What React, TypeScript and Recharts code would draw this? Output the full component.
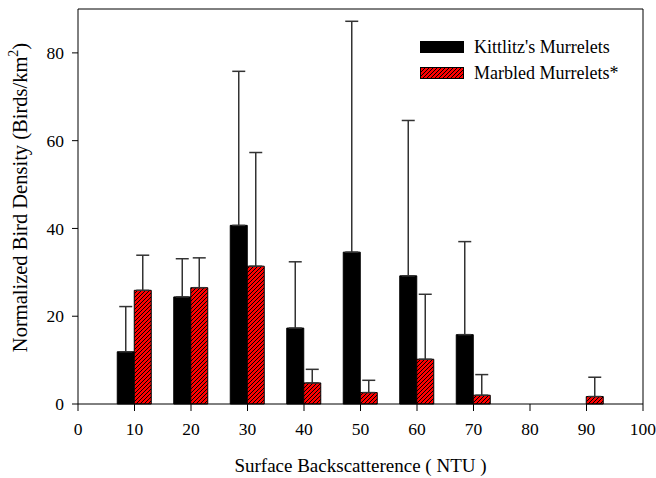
import React from 'react';
import { BarChart, Bar, XAxis, YAxis, ErrorBar, ReferenceLine } from 'recharts';

const backscatter = [10, 20, 30, 40, 50, 60, 70, 80, 90];
const kittlitz = [11.9, 24.4, 40.7, 17.3, 34.6, 29.2, 15.8, 0, 0];
const kittlitzUpper = [22.2, 33.1, 75.8, 32.4, 87.2, 64.6, 37.0, 0, 0];
const marbled = [25.9, 26.5, 31.4, 4.8, 2.6, 10.2, 2.0, 0, 1.7];
const marbledUpper = [33.9, 33.3, 57.3, 7.9, 5.4, 25.0, 6.7, 0, 6.1];
const xTicks = [0, 10, 20, 30, 40, 50, 60, 70, 80, 90, 100];
const yTicks = [0, 20, 40, 60, 80];

const data = backscatter.map((x, i) => ({
  x,
  kittlitz: kittlitz[i],
  marbled: marbled[i],
  kErr: [0, Math.max(0, kittlitzUpper[i] - kittlitz[i])],
  mErr: [0, Math.max(0, marbledUpper[i] - marbled[i])],
}));

const font = 'Liberation Serif, DejaVu Serif, serif';

const YTitle = (props: any) => {
  const vb = props.viewBox || { x: 0, y: 0, width: 78, height: 395 };
  const cx = vb.x + 27;
  const cy = vb.y + vb.height / 2 - 9;
  return (
    <text
      x={cx}
      y={cy}
      transform={`rotate(-90 ${cx} ${cy})`}
      textAnchor="middle"
      fontFamily={font}
      fontSize={20.5}
      fill="#000"
    >
      Normalized Bird Density (Birds/km
      <tspan fontSize={14} dy={-9}>2</tspan>
      <tspan dy={9}>)</tspan>
    </text>
  );
};

export default function App() {
  return (
    <div style={{ position: 'absolute', left: 0, top: 0, width: 656, height: 478, fontFamily: font }}>
      <BarChart
        width={656}
        height={478}
        data={data}
        margin={{ top: 9, right: 13, left: 0, bottom: 0 }}
        barGap={0}
        barSize={17}
      >
        <defs>
          <pattern id="hatch" patternUnits="userSpaceOnUse" width={4} height={4}>
            <rect width={4} height={4} fill="#ff0000" />
            <path d="M-1,1 l2,-2 M0,4 l4,-4 M3,5 l2,-2" stroke="#000" strokeWidth={1} />
          </pattern>
        </defs>
        <XAxis
          dataKey="x"
          type="number"
          domain={[0, 100]}
          ticks={xTicks}
          height={74}
          tickSize={7}
          stroke="#000"
          tick={{ fill: '#000', fontFamily: font, fontSize: 17.5, dy: 10 }}
          label={{ value: 'Surface Backscatterence ( NTU )', position: 'insideBottom', offset: 6, style: { fontFamily: font, fontSize: 19, fill: '#000' } }}
        />
        <YAxis
          type="number"
          domain={[0, 90]}
          ticks={yTicks}
          width={78}
          tickSize={6}
          stroke="#000"
          tick={{ fill: '#000', fontFamily: font, fontSize: 17.5, dx: -6 }}
          label={<YTitle />}
        />
        <ReferenceLine y={90} stroke="#000" />
        <ReferenceLine x={100} stroke="#000" />
        <Bar dataKey="kittlitz" fill="#000" stroke="#000" strokeWidth={1} isAnimationActive={false}>
          <ErrorBar dataKey="kErr" width={6.5} stroke="#333" strokeWidth={1.5} direction="y" />
        </Bar>
        <Bar dataKey="marbled" fill="url(#hatch)" stroke="#000" strokeWidth={1} isAnimationActive={false}>
          <ErrorBar dataKey="mErr" width={6.5} stroke="#333" strokeWidth={1.5} direction="y" />
        </Bar>
        {/* legend, upper right inside the frame */}
        <g transform="translate(420,41)">
          <rect x={0.5} y={0.5} width={43} height={11} fill="#000" stroke="#000" />
          <text x={54} y={12} fontFamily={font} fontSize={18} fill="#000">Kittlitz's Murrelets</text>
          <rect x={0.5} y={26.5} width={43} height={11} fill="url(#hatch)" stroke="#000" />
          <text x={54} y={38} fontFamily={font} fontSize={18} fill="#000">Marbled Murrelets*</text>
        </g>
      </BarChart>
    </div>
  );
}
